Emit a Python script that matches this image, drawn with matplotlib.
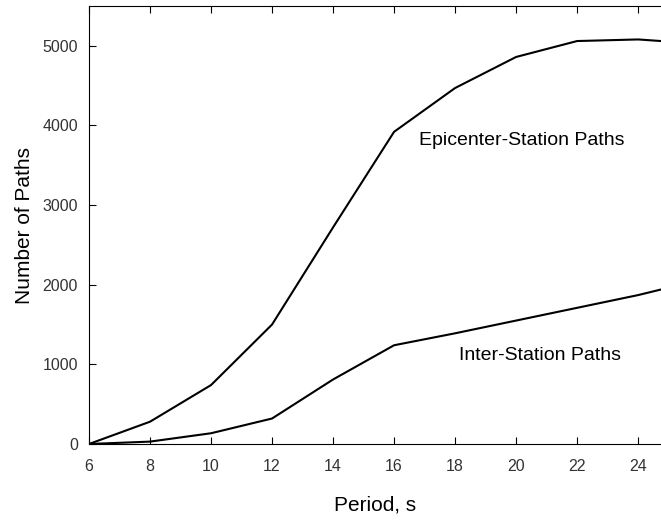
import matplotlib.pyplot as plt

plt.rcParams['font.family'] = ['Liberation Sans', 'DejaVu Sans']

period = [6, 8, 10, 12, 14, 16, 18, 20, 22, 24, 24.75]
epicenter = [0, 280, 740, 1500, 2720, 3920, 4470, 4860, 5060, 5080, 5060]
inter = [0, 30, 135, 320, 810, 1240, 1390, 1550, 1710, 1870, 1940]
xticks = [6, 8, 10, 12, 14, 16, 18, 20, 22, 24]
yticks = [0, 1000, 2000, 3000, 4000, 5000]

fig = plt.figure(figsize=(6.61, 5.2), dpi=100)
ax = fig.add_axes([89/661, 1-444/520, 1-89/661, 438/520])

ax.plot(period, epicenter, color='black', lw=1.5)
ax.plot(period, inter, color='black', lw=1.5)

ax.text(20.2, 3810, 'Epicenter-Station Paths', ha='center', va='center', fontsize=14)
ax.text(20.8, 1115, 'Inter-Station Paths', ha='center', va='center', fontsize=14)

ax.set_xlim(6, 24.75)
ax.set_ylim(0, 5500)
ax.set_xticks(xticks)
ax.set_yticks(yticks)
ax.tick_params(direction='in', length=5, top=True, labelsize=11.5,
               labelcolor='#333333')
ax.tick_params(axis='x', pad=11)
ax.tick_params(axis='y', pad=8)
ax.spines['right'].set_visible(False)

ax.set_xlabel('Period, s', fontsize=15, labelpad=15)
ax.set_ylabel('Number of Paths', fontsize=15, labelpad=6)

fig.savefig('out.png', dpi=100)
